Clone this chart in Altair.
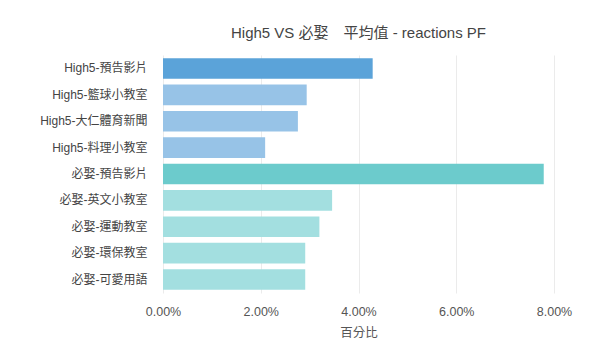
import altair as alt
import pandas as pd

categories = [
    "High5-預告影片", "High5-籃球小教室", "High5-大仁體育新聞", "High5-料理小教室",
    "必娶-預告影片", "必娶-英文小教室", "必娶-運動教室", "必娶-環保教室", "必娶-可愛用語",
]
values = [0.0429, 0.0294, 0.0276, 0.0209, 0.0779, 0.0346, 0.0320, 0.0291, 0.0291]
groups = ["High5-主", "High5", "High5", "High5", "必娶-主", "必娶", "必娶", "必娶", "必娶"]

df = pd.DataFrame({"類別": categories, "百分比": values, "組": groups})

FONT = "Liberation Sans, Noto Sans CJK TC, sans-serif"

chart = alt.Chart(df).mark_bar().encode(
    y=alt.Y("類別:N", sort=categories, title=None,
            scale=alt.Scale(paddingInner=0.22, paddingOuter=0.12),
            axis=alt.Axis(ticks=False, domain=False, grid=False, labelPadding=16,
                          labelFontSize=12, labelColor="#444", labelFont=FONT)),
    x=alt.X("百分比:Q", title="百分比",
            scale=alt.Scale(domain=[0, 0.08], nice=False),
            axis=alt.Axis(format=".2%", values=[0, 0.02, 0.04, 0.06, 0.08],
                          ticks=False, domain=False, grid=True, gridColor="#ebebeb",
                          labelFlush=False,
                          labelFontSize=12.5, labelColor="#555", labelFont=FONT, labelPadding=12,
                          titleFontSize=12.5, titleColor="#555", titleFont=FONT,
                          titleFontWeight="normal", titlePadding=9)),
    color=alt.Color("組:N", legend=None,
                    scale=alt.Scale(domain=["High5-主", "High5", "必娶-主", "必娶"],
                                    range=["#5ba3d9", "#97c3e7", "#6ccbcc", "#a3dfe0"])),
).properties(
    width=391,
    height=238,
    title=alt.TitleParams("High5 VS 必娶　平均值 - reactions PF", fontSize=15,
                          font=FONT, color="#444", fontWeight="normal", offset=14,
                          anchor="middle"),
    autosize=alt.AutoSizeParams(type="none"),
    padding={"left": 155, "top": 47, "right": 38, "bottom": 54},
).configure_view(stroke=None)

chart.save("out.html", embed_options={"renderer": "svg", "actions": False})
